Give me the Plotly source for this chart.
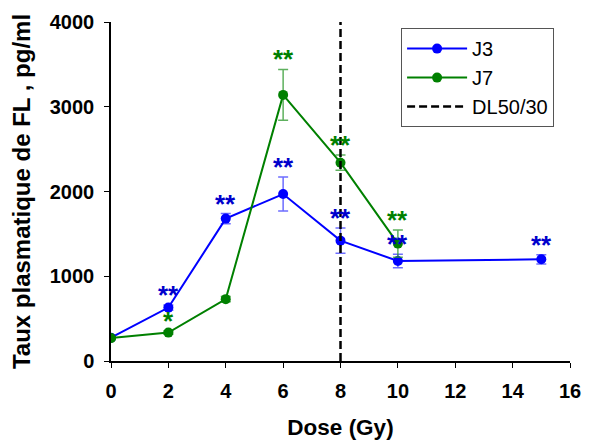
import plotly.graph_objects as go

doses_j3 = [0, 2, 4, 6, 8, 10, 15]
j3 = [275, 630, 1680, 1970, 1420, 1180, 1200]
j3_err = [20, 30, 60, 200, 150, 80, 55]
j3_sig = ["", "**", "**", "**", "**", "**", "**"]

doses_j7 = [0, 2, 4, 6, 8, 10]
j7 = [270, 335, 730, 3140, 2340, 1385]
j7_err = [15, 20, 30, 300, 90, 160]
j7_sig = ["", "*", "", "**", "**", "**"]

dl50 = 8
x_ticks = [0, 2, 4, 6, 8, 10, 12, 14, 16]
y_ticks = [0, 1000, 2000, 3000, 4000]

BLUE = "#0000FF"
GREEN = "#008000"

fig = go.Figure()
fig.add_trace(go.Scatter(
    x=doses_j3, y=j3, name="J3", mode="lines+markers",
    line=dict(color=BLUE, width=2), marker=dict(color=BLUE, size=10),
    error_y=dict(type="data", array=j3_err, color="rgba(60,60,255,0.75)", thickness=1.5, width=5),
))
fig.add_trace(go.Scatter(
    x=doses_j7, y=j7, name="J7", mode="lines+markers",
    line=dict(color=GREEN, width=2), marker=dict(color=GREEN, size=10),
    error_y=dict(type="data", array=j7_err, color="rgba(40,150,40,0.75)", thickness=1.5, width=5),
))
fig.add_trace(go.Scatter(
    x=[dl50, dl50], y=[y_ticks[0], y_ticks[-1]], name="DL50/30", mode="lines",
    line=dict(color="black", width=2.5, dash="8px,4px"),
))

for x, y, e, s in zip(doses_j3, j3, j3_err, j3_sig):
    if s:
        fig.add_annotation(x=x, y=y + e, text="<b>" + s + "</b>", showarrow=False, yanchor="bottom",
                           yshift=-7, font=dict(family="Arial", size=26, color="#0000CC"))
for x, y, e, s in zip(doses_j7, j7, j7_err, j7_sig):
    if s:
        fig.add_annotation(x=x, y=y + e, text="<b>" + s + "</b>", showarrow=False, yanchor="bottom",
                           yshift=-7, font=dict(family="Arial", size=26, color=GREEN))

# page body has an 8px margin, so the figure is sized to fit the window
fig.update_layout(
    width=604, height=433,
    margin=dict(l=103, r=42, t=14, b=80),
    paper_bgcolor="white", plot_bgcolor="white",
    font=dict(family="Arial", color="black"),
    showlegend=True,
    legend=dict(x=0.632, y=0.982, xanchor="left", yanchor="top",
                bordercolor="#555555", borderwidth=1, bgcolor="white",
                font=dict(family="Arial", size=20, color="black"),
                tracegroupgap=0, itemwidth=60),
)
fig.update_xaxes(
    range=[0, 16], tickvals=x_ticks, ticktext=[str(t) for t in x_ticks],
    showline=True, linecolor="black", linewidth=1.5, ticks="outside", ticklen=5,
    tickcolor="black", showgrid=False, zeroline=False, automargin=False,
    ticklabelstandoff=6,
    tickfont=dict(family="Arial", size=20, color="black", weight="bold"),
    title=dict(text="<b>Dose (Gy)</b>", font=dict(family="Arial", size=22.5), standoff=18),
)
fig.update_yaxes(
    range=[0, 4000], tickvals=y_ticks, ticktext=[str(t) for t in y_ticks],
    showline=True, linecolor="black", linewidth=1.5, ticks="outside", ticklen=5,
    tickcolor="black", showgrid=False, zeroline=False, automargin=False,
    ticklabelstandoff=6,
    tickfont=dict(family="Arial", size=20, color="black", weight="bold"),
    title=dict(text="<b>Taux plasmatique de FL , pg/ml</b>", font=dict(family="Arial", size=24), standoff=12),
)

fig.write_html("out.html")
